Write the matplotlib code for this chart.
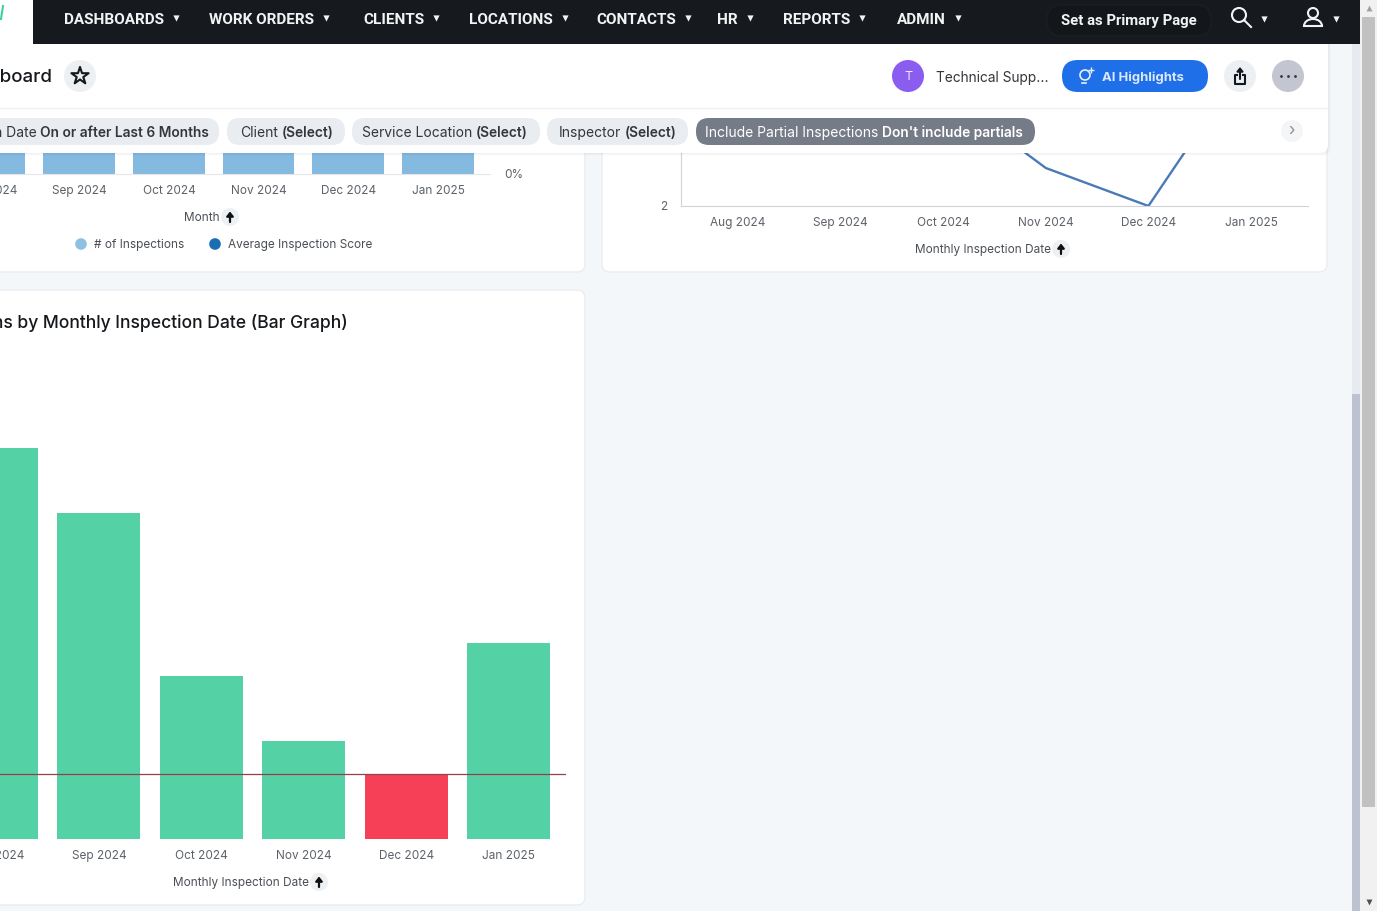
import matplotlib
matplotlib.use('Agg')
import matplotlib.pyplot as plt
from matplotlib.patches import FancyBboxPatch, Rectangle, Circle, Arc

plt.rcParams['font.family'] = ['Inter', 'DejaVu Sans']

W, H = 1377, 911

months = ['Aug 2024', 'Sep 2024', 'Oct 2024', 'Nov 2024', 'Dec 2024', 'Jan 2025']
inspections = [12, 10, 5, 3, 2, 6]
threshold = 2
nav_items = ['DASHBOARDS', 'WORK ORDERS', 'CLIENTS', 'LOCATIONS', 'CONTACTS', 'HR', 'REPORTS', 'ADMIN']
nav_x = [64, 209, 363, 469, 596, 717, 783, 897]

GREEN = '#55d1a6'
RED = '#f54057'
LIGHT_BLUE = '#84b9e0'
TICK = '#5c6269'


def px_axes(fig, x0, y0, x1, y1, z=1):
    # y0 is the top edge, all in screen pixels
    ax = fig.add_axes([x0 / W, 1 - y1 / H, (x1 - x0) / W, (y1 - y0) / H], zorder=z)
    ax.patch.set_alpha(0)
    for s in ax.spines.values():
        s.set_visible(False)
    return ax


def box(ax, x0, y0, x1, y1, color, r=8, edge='none', lw=1, z=1):
    ax.add_patch(FancyBboxPatch((x0, y0), x1 - x0, y1 - y0, boxstyle=f'round,pad=0,rounding_size={r}',
                                fc=color, ec=edge, lw=lw, zorder=z))


def axis_title(ax, right_x, y, label, x_arrow):
    ax.text(right_x, y + 1, label, ha='right', va='center', fontsize=8.5, color='#4a4f55')
    ax.add_patch(Circle((x_arrow, y), 9, fc='#eef1f4', ec='none'))
    ax.annotate('', xy=(x_arrow, y - 5.5), xytext=(x_arrow, y + 5),
                arrowprops=dict(arrowstyle='-|>,head_width=0.2,head_length=0.25', color='#111111',
                                lw=1.6, shrinkA=0, shrinkB=0))


fig = plt.figure(figsize=(W / 100, H / 100), dpi=100, facecolor='#f3f7fa')

# cards behind the charts
bg = px_axes(fig, 0, 0, W, H, z=0)
bg.set_xlim(0, W)
bg.set_ylim(H, 0)
bg.axis('off')
box(bg, -20, 20, 585, 272, 'white', edge='#e9edf1')
box(bg, 602, 20, 1327, 272, 'white', edge='#e9edf1')
box(bg, -20, 290, 585, 905, 'white', edge='#e9edf1')
bg.text(348, 323.5, 'Inspections by Monthly Inspection Date (Bar Graph)', ha='right', va='center',
        fontsize=12.6, fontweight=500, color='#15181c')
axis_title(bg, 220, 217, 'Month', 230)
axis_title(bg, 1051, 249, 'Monthly Inspection Date', 1061)
axis_title(bg, 309, 882, 'Monthly Inspection Date', 319)
bg.scatter([81, 215], [244, 244], s=70, c=['#8fc0e2', '#1a6db3'], linewidths=0)
bg.text(94, 245, '# of Inspections', va='center', fontsize=8.5, color='#4a4f55')
bg.text(228, 245, 'Average Inspection Score', va='center', fontsize=8.5, color='#4a4f55')
bg.text(504, 174.5, '0%', va='center', fontsize=8.5, color=TICK)

# top left combo chart, only the foot of the bars is visible
ax1 = px_axes(fig, -60, 60, 490, 174)
ax1.bar(range(len(months)), inspections, width=0.8, color=LIGHT_BLUE)
ax1.set_xlim((-60 + 10.5) / 89.7, (490 + 10.5) / 89.7)
ax1.set_ylim(0, 114 / 30)
ax1.set_yticks([])
ax1.set_xticks(range(len(months)), months)
ax1.tick_params(axis='x', length=0, pad=8, labelsize=8.5, labelcolor=TICK)
ax1.spines['bottom'].set_visible(True)
ax1.spines['bottom'].set_color('#e3e6ea')

# top right line chart
ax2 = px_axes(fig, 681, 60, 1308, 206)
ax2.plot(range(len(months)), inspections, color='#4a7bb7', lw=1.7, solid_joinstyle='miter')
ax2.set_xlim((681 - 738) / 102.6, (1308 - 738) / 102.6)
ax2.set_ylim(2, 2 + 146 / 38)
ax2.set_xticks(range(len(months)), months)
ax2.set_yticks([2])
ax2.tick_params(axis='both', length=0, labelsize=8.5, labelcolor=TICK)
ax2.tick_params(axis='x', pad=8)
ax2.tick_params(axis='y', pad=10)
ax2.spines['bottom'].set_visible(True)
ax2.spines['left'].set_visible(True)
ax2.spines['bottom'].set_color('#cfd4da')
ax2.spines['left'].set_color('#cfd4da')

# main bar chart
ax3 = px_axes(fig, -60, 340, 566, 839)
colors = [RED if v <= threshold else GREEN for v in inspections]
ax3.bar(range(len(months)), inspections, width=0.81, color=colors)
ax3.axhline(threshold, color='#94404c', lw=0.9)
ax3.set_xlim((-60 + 3.5) / 102.4, (566 + 3.5) / 102.4)
ax3.set_ylim(0, 499 / 32.6)
ax3.set_yticks([])
ax3.set_xticks(range(len(months)), months)
ax3.tick_params(axis='x', length=0, pad=8, labelsize=8.5, labelcolor=TICK)

# header, filter strip and navigation sit over the charts
top = px_axes(fig, 0, 0, W, H, z=5)
top.set_xlim(0, W)
top.set_ylim(H, 0)
top.axis('off')

for i, a in enumerate([0.012, 0.018, 0.025]):
    box(top, -20, 30, 1329 + 2 - i, 156 - i, '#000000', r=8, z=1)
    top.patches[-1].set_alpha(a)
box(top, -20, 30, 1328, 153, 'white', z=2)
top.plot([0, 1328], [108, 108], color='#eef0f3', lw=1, zorder=3)

top.text(52.5, 78, 'Dashboard', ha='right', va='center', fontsize=13.5, fontweight=500, color='#15181c', zorder=4)
top.add_patch(Circle((80, 76), 16, fc='#edf0f3', zorder=3))
top.scatter([80], [76], s=170, marker='*', fc='none', ec='#15181c', lw=1.5, zorder=4)

top.add_patch(Circle((908, 76), 16, fc='#8b5cf0', zorder=3))
top.text(908, 77.5, 'T', ha='center', va='center', fontsize=9, color='#f0e8ff', zorder=4)
top.text(936, 78, 'Technical Supp...', va='center', fontsize=9.9, color='#33373c', zorder=4)
box(top, 1062, 60, 1208, 92, '#1f6fe8', r=16, z=3)
top.text(1102, 78, 'AI Highlights', va='center', fontsize=9.4, fontweight='bold', color='#dbe8ff', zorder=4)
top.add_patch(Circle((1085, 75), 5, fc='none', ec='#e6efff', lw=1.2, zorder=4))
top.plot([1082, 1086], [83, 83], color='#e6efff', lw=1.2, zorder=4)
top.scatter([1091], [70], s=18, marker='+', c='#e6efff', linewidths=1, zorder=4)
top.add_patch(Circle((1240, 76), 16, fc='#edf0f3', zorder=3))
top.plot([1237, 1235, 1235, 1245, 1245, 1243], [75, 75, 84, 84, 75, 75], color='#15181c', lw=1.5, zorder=4)
top.annotate('', xy=(1240, 67), xytext=(1240, 79), zorder=5,
             arrowprops=dict(arrowstyle='-|>,head_width=0.18,head_length=0.22', color='#15181c', lw=1.5,
                             shrinkA=0, shrinkB=0))
top.add_patch(Circle((1288, 76), 16, fc='#c3c6d1', zorder=3))
top.scatter([1281, 1288, 1295], [76, 76, 76], s=4, c='#33373c', linewidths=0, zorder=4)

pills = [(-20, 219, '#e9ecf0'), (227, 345, '#e9ecf0'), (352, 540, '#e9ecf0'), (547, 688, '#e9ecf0'),
         (696, 1035, '#757b87')]
for x0, x1, c in pills:
    box(top, x0, 118, x1, 145, c, r=13, z=3)
labels = [(37, 'n Date', 40, 'On or after Last 6 Months'), (278, 'Client', 282, '(Select)'),
          (472, 'Service Location', 476, '(Select)'), (621, 'Inspector', 625, '(Select)')]
for xr, plain, xb, strong in labels:
    top.text(xr, 133, plain, ha='right', va='center', fontsize=10, color='#33373c', zorder=4)
    top.text(xb, 133, strong, va='center', fontsize=9.9, fontweight=600, color='#33373c', zorder=4)
top.text(878, 133, 'Include Partial Inspections', ha='right', va='center', fontsize=10, color='white', zorder=4)
top.text(882, 133, "Don't include partials", va='center', fontsize=9.9, fontweight=600, color='white', zorder=4)
top.add_patch(Circle((1292, 131), 11, fc='#f3f5f7', zorder=3))
top.text(1292, 130, '›', ha='center', va='center', fontsize=12, color='#8a9099', zorder=4)

# nav bar
top.add_patch(Rectangle((0, 0), 33, 44, fc='white', zorder=6))
top.plot([3, 1], [6, 19], color='#3fcf9f', lw=1.5, zorder=7)
top.add_patch(Rectangle((33, 0), 1327, 44, fc='#16191d', zorder=6))
for x, name in zip(nav_x, nav_items):
    t = top.text(x, 20, name, va='center', fontsize=11, fontweight='bold', color='#f2f3f4',
                 family='Roboto', zorder=7)
    end = t.get_window_extent(fig.canvas.get_renderer()).x1
    top.scatter([end + 12], [17.5], s=20, marker='v', c='#f2f3f4', linewidths=0, zorder=7)
box(top, 1047, 5, 1211, 36, '#14171a', r=15, edge='#1b1f24', z=6.5)
top.text(1061, 21, 'Set as Primary Page', va='center', fontsize=10.7, fontweight='bold', color='#f2f3f4',
         family='Roboto', zorder=7)
top.add_patch(Circle((1239, 15), 7, fc='none', ec='#f2f3f4', lw=1.5, zorder=7))
top.plot([1244, 1251], [20, 27], color='#f2f3f4', lw=1.5, zorder=7)
top.add_patch(Circle((1313, 13), 5, fc='none', ec='#f2f3f4', lw=1.5, zorder=7))
top.add_patch(Arc((1313, 26), 18, 14, theta1=180, theta2=360, ec='#f2f3f4', lw=1.5, zorder=7))
top.plot([1304, 1322], [26, 26], color='#f2f3f4', lw=1.5, zorder=7)
top.scatter([1264, 1336], [19, 19], s=20, marker='v', c='#f2f3f4', linewidths=0, zorder=7)

# the two scrollbars on the right
top.add_patch(Rectangle((1352, 44), 8, 350, fc='#e8eaf2', zorder=6))
top.add_patch(Rectangle((1352, 394), 8, H - 394, fc='#bcc2d0', zorder=6))
top.add_patch(Rectangle((1360, 0), 17, H, fc='#f1f1f1', zorder=6))
top.add_patch(Rectangle((1362, 17), 13, 790, fc='#c1c1c1', zorder=7))
top.scatter([1369], [8], s=18, marker='^', c='#a0a0a0', linewidths=0, zorder=7)
top.scatter([1369], [902], s=18, marker='v', c='#505050', linewidths=0, zorder=7)

fig.savefig('out.png', dpi=100)
